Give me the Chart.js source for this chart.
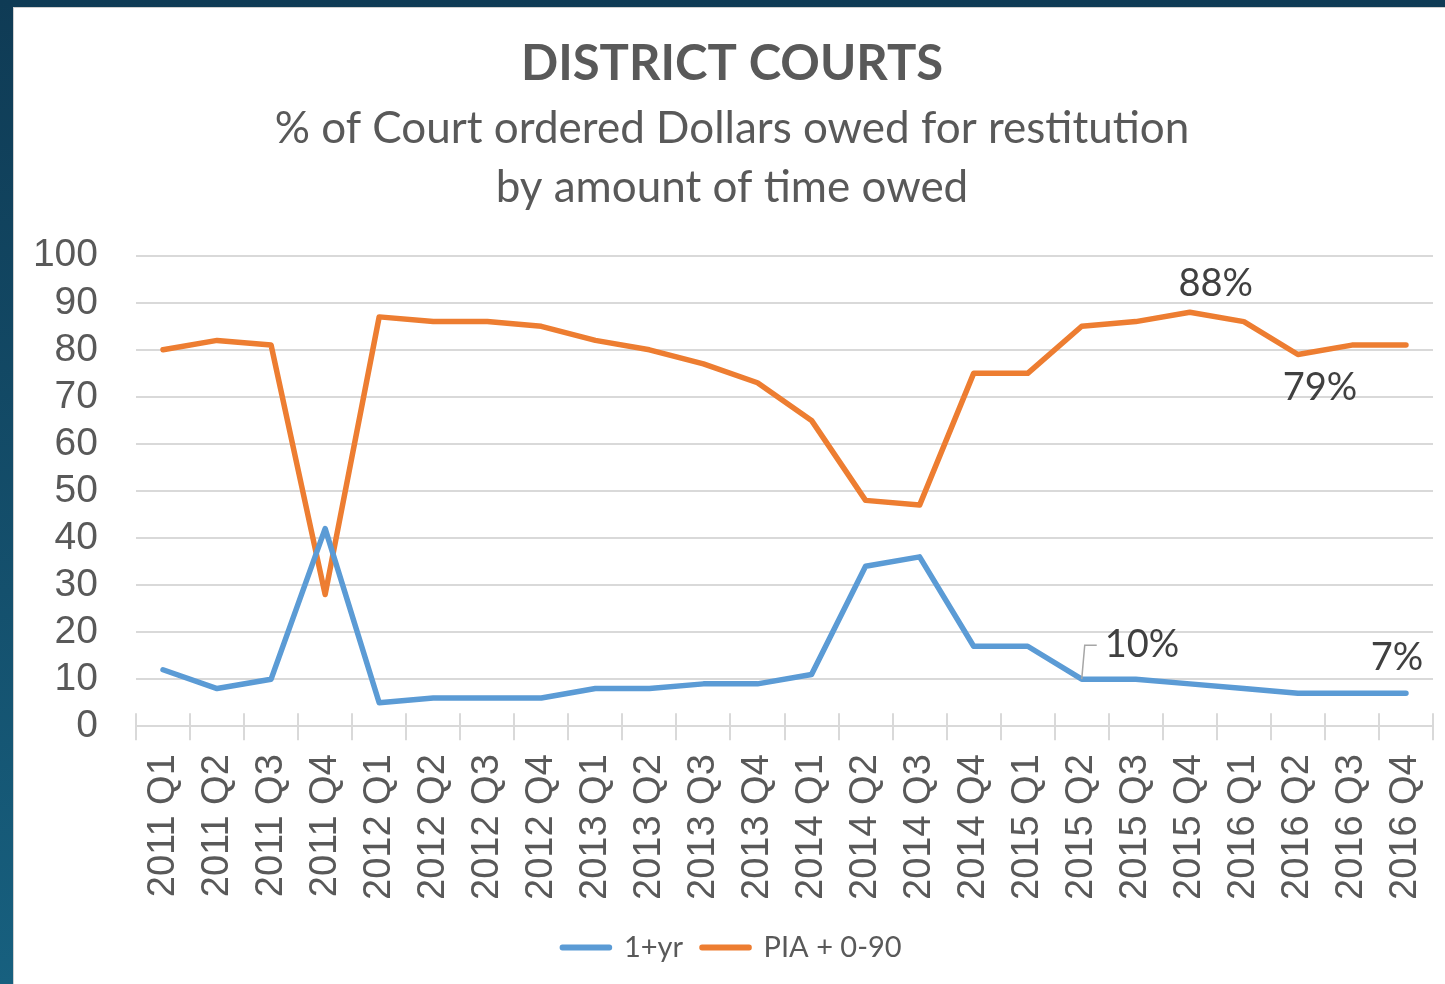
<!DOCTYPE html>
<html>
<head>
<meta charset="utf-8">
<script src="https://cdn.jsdelivr.net/npm/chart.js@4"></script>
<style>
	html, body { margin: 0; padding: 0; }
	body {
		width: 1445px;
		height: 984px;
		overflow: hidden;
		background: linear-gradient(180deg, #0f3b55 0%, #14506d 60%, #17607f 100%);
		position: relative;
	}
	#panel {
		position: absolute;
		left: 13px;
		top: 7px;
		width: 1432px;
		height: 977px;
		background: #fff;
		border-left: 1px solid #d0d0d0;
		border-top: 1px solid #d0d0d0;
		box-sizing: border-box;
	}
</style>
</head>
<body>
<div id="panel"><canvas id="chart"></canvas></div>
<script>
const quarters = [
	'2011 Q1', '2011 Q2', '2011 Q3', '2011 Q4',
	'2012 Q1', '2012 Q2', '2012 Q3', '2012 Q4',
	'2013 Q1', '2013 Q2', '2013 Q3', '2013 Q4',
	'2014 Q1', '2014 Q2', '2014 Q3', '2014 Q4',
	'2015 Q1', '2015 Q2', '2015 Q3', '2015 Q4',
	'2016 Q1', '2016 Q2', '2016 Q3', '2016 Q4',
];
const oneYearPlus = [12, 8, 10, 42, 5, 6, 6, 6, 8, 8, 9, 9, 11, 34, 36, 17, 17, 10, 10, 9, 8, 7, 7, 7];
const piaZeroNinety = [80, 82, 81, 28, 87, 86, 86, 85, 82, 80, 77, 73, 65, 48, 47, 75, 75, 85, 86, 88, 86, 79, 81, 81];

// data labels shown on the chart: [dataset, point index]
const labeledPoints = [[1, 19], [1, 21], [0, 17], [0, 23]];

const textColor = '#595959';
const gridColor = '#d9d9d9';

// where each label sits relative to its point
const labelPlacement = [
	{dx: 26, dy: -28, align: 'center'},
	{dx: 22, dy: 33, align: 'center'},
	{dx: 23, dy: -34, align: 'left', leader: true},
	{dx: -9, dy: -36, align: 'center'},
];

const pointLabels = {
	id: 'pointLabels',
	afterDatasetsDraw(chart) {
		let ctx = chart.ctx;
		ctx.save();
		ctx.font = '38px Lato';
		ctx.fillStyle = '#404040';
		ctx.textBaseline = 'middle';
		labeledPoints.forEach(([ds, idx], i) => {
			let pt = chart.getDatasetMeta(ds).data[idx];
			let p = labelPlacement[i];
			let value = chart.data.datasets[ds].data[idx];
			ctx.textAlign = p.align;
			let x = pt.x + p.dx, y = pt.y + p.dy;
			ctx.fillText(value + '%', x, y);
			if(p.leader) {
				ctx.strokeStyle = '#a6a6a6';
				ctx.lineWidth = 1.5;
				ctx.beginPath();
				ctx.moveTo(pt.x, pt.y);
				ctx.lineTo(pt.x + 3, y);
				ctx.lineTo(x - 8, y);
				ctx.stroke();
			}
		});
		ctx.restore();
	},
};

// excel-style tick marks crossing the category axis
const upperTicks = {
	id: 'upperTicks',
	afterDraw(chart) {
		let x = chart.scales.x;
		let ctx = chart.ctx;
		ctx.save();
		ctx.strokeStyle = gridColor;
		ctx.lineWidth = 2;
		ctx.beginPath();
		let step = (x.right - x.left) / quarters.length;
		for(let i = 0; i <= quarters.length; i++) {
			let px = Math.round(x.left + step * i);
			ctx.moveTo(px, x.top - 13);
			ctx.lineTo(px, x.top);
		}
		ctx.stroke();
		ctx.restore();
	},
};

let config = {
	type: 'line',
	data: {
		labels: quarters,
		datasets: [{
			label: '1+yr',
			data: oneYearPlus,
			borderColor: '#5b9bd5',
			backgroundColor: '#5b9bd5',
		}, {
			label: 'PIA + 0-90',
			data: piaZeroNinety,
			borderColor: '#ed7d31',
			backgroundColor: '#ed7d31',
		}],
	},
	options: {
		responsive: false,
		animation: false,
		events: [],
		elements: {
			line: {borderWidth: 5.5, tension: 0, borderCapStyle: 'round', borderJoinStyle: 'round'},
			point: {radius: 0},
		},
		layout: {padding: {left: 17, right: 12, top: 0, bottom: 12}},
		plugins: {
			title: {
				display: true,
				text: 'DISTRICT COURTS',
				color: textColor,
				font: {family: 'Lato', size: 49, weight: 'bold'},
				padding: {top: 27, bottom: 2},
			},
			subtitle: {
				display: true,
				text: ['% of Court ordered Dollars owed for restitution', 'by amount of time owed'],
				color: textColor,
				font: {family: 'Lato', size: 44, lineHeight: 1.34},
				padding: {top: 4, bottom: 38},
			},
			legend: {
				position: 'bottom',
				labels: {
					color: textColor,
					font: {family: 'Lato', size: 29},
					boxWidth: 47,
					boxHeight: 0.5,
					padding: 19,
				},
			},
			tooltip: {enabled: false},
		},
		scales: {
			x: {
				offset: true,
				afterFit: (scale) => { scale.paddingLeft = 0; scale.paddingRight = 0; },
				grid: {
					offset: true,
					drawOnChartArea: false,
					drawTicks: true,
					tickLength: 14,
					color: gridColor,
					lineWidth: 2,
				},
				border: {color: gridColor, width: 2},
				ticks: {
					color: textColor,
					font: {family: 'Liberation Sans', size: 38},
					minRotation: 90,
					maxRotation: 90,
					autoSkip: false,
					padding: 14,
				},
			},
			y: {
				min: 0,
				max: 100,
				afterFit: (scale) => { scale.width = 105; },
				ticks: {
					stepSize: 10,
					autoSkip: false,
					color: textColor,
					font: {family: 'Liberation Sans', size: 39},
					padding: 38,
				},
				grid: {color: gridColor, lineWidth: 2, drawTicks: false},
				border: {display: false},
			},
		},
	},
	plugins: [pointLabels, upperTicks],
};

let canvas = document.getElementById('chart');
canvas.width = 1431;
canvas.height = 976;
new Chart(canvas.getContext('2d'), config);
</script>
</body>
</html>
